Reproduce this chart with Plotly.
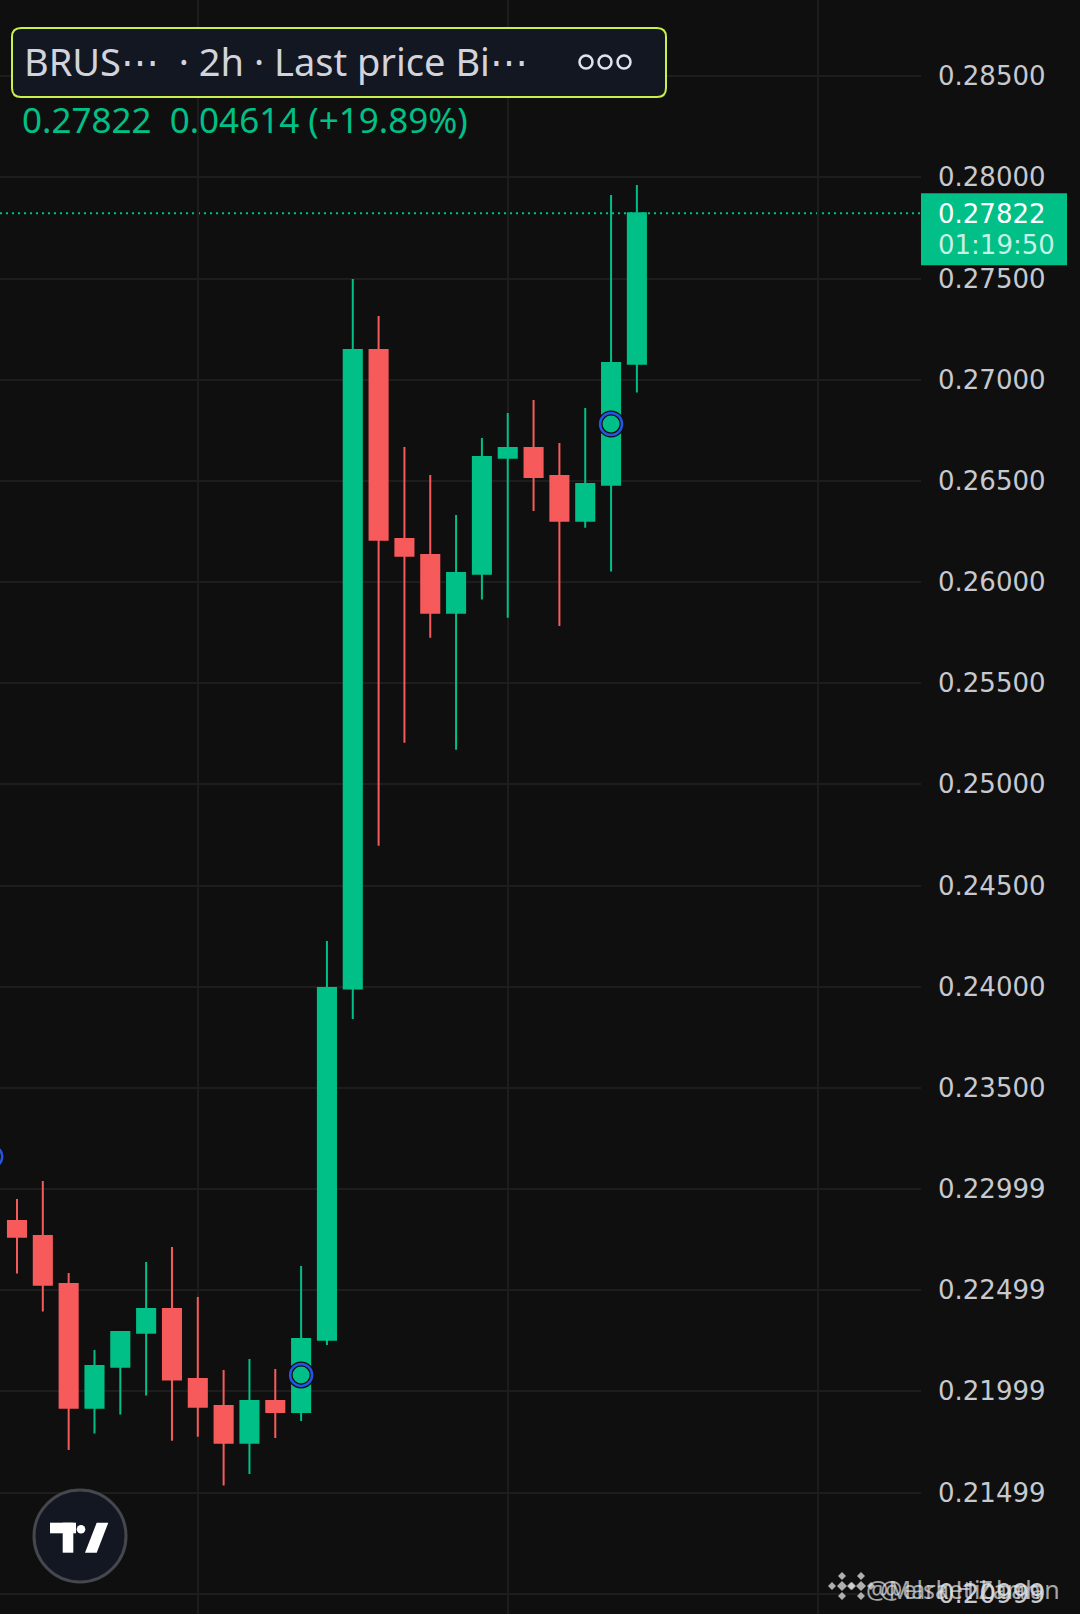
import plotly.graph_objects as go

# candles (2h), index 0 = first candle visible on the left
idx = list(range(25))
opens = [0.22842, 0.22768, 0.22531, 0.21919, 0.22122, 0.22290, 0.22407, 0.22061, 0.21928, 0.21746,
         0.21952, 0.21898, 0.22255, 0.23991, 0.27147, 0.26213, 0.26134, 0.25848, 0.26041, 0.26614,
         0.26662, 0.26524, 0.26303, 0.26481, 0.27079]
highs = [0.22951, 0.23040, 0.22585, 0.22204, 0.22295, 0.22639, 0.22713, 0.22466, 0.22105, 0.22160,
         0.22110, 0.22619, 0.24226, 0.27498, 0.27315, 0.26667, 0.26529, 0.26331, 0.26712, 0.26835,
         0.26900, 0.26687, 0.26860, 0.27913, 0.27962]
lows = [0.22582, 0.22394, 0.21710, 0.21791, 0.21885, 0.21979, 0.21756, 0.21776, 0.21534, 0.21591,
        0.21769, 0.21853, 0.22229, 0.23840, 0.24697, 0.25206, 0.25725, 0.25171, 0.25913, 0.25823,
        0.26351, 0.25783, 0.26268, 0.26052, 0.26936]
closes = [0.22764, 0.22527, 0.21919, 0.22125, 0.22293, 0.22407, 0.22058, 0.21924, 0.21746, 0.21952,
          0.21898, 0.22259, 0.23993, 0.27147, 0.26209, 0.26130, 0.25848, 0.26045, 0.26618, 0.26662,
          0.26519, 0.26303, 0.26484, 0.27082, 0.27822]

# signal circles (indicator)
sig_idx = [-1, 11, 23]
sig_price = [0.23160, 0.22081, 0.26781]

# price scale
tick_vals = [0.285, 0.28, 0.275, 0.27, 0.265, 0.26, 0.255, 0.25, 0.245, 0.24, 0.235,
             0.23, 0.225, 0.22, 0.215, 0.21]
tick_text = ['0.28500', '0.28000', '0.27500', '0.27000', '0.26500', '0.26000', '0.25500',
             '0.25000', '0.24500', '0.24000', '0.23500', '0.22999', '0.22499', '0.21999',
             '0.21499', '0.20999']

change = 0.04614
change_pct = 19.89
countdown = '01:19:50'

W, H = 1080, 1614
PW = 921  # plot width in px
GREEN = '#00c087'
RED = '#f75a5a'
BG = '#0f0f0f'
GRID = '#1d1d1d'


def px(X):
    return X / PW


def py(Y):
    return 1 - Y / H


def rrect(x0, y0, x1, y1, r):
    return ('M {a},{b} L {c},{b} Q {d},{b} {d},{e} L {d},{f} Q {d},{g} {c},{g} '
            'L {a},{g} Q {h},{g} {h},{f} L {h},{e} Q {h},{b} {a},{b} Z').format(
        a=px(x0 + r), b=py(y0), c=px(x1 - r), d=px(x1), e=py(y0 + r),
        f=py(y1 - r), g=py(y1), h=px(x0))


def diamond(cx, cy, s):
    return 'M {},{} L {},{} L {},{} L {},{} Z'.format(
        px(cx), py(cy - s), px(cx + s), py(cy), px(cx), py(cy + s), px(cx - s), py(cy))


fig = go.Figure()

fig.add_trace(go.Candlestick(
    x=idx, open=opens, high=highs, low=lows, close=closes,
    increasing=dict(line=dict(color=GREEN, width=2), fillcolor=GREEN),
    decreasing=dict(line=dict(color=RED, width=2), fillcolor=RED),
    whiskerwidth=0, showlegend=False, hoverinfo='skip'))

fig.add_trace(go.Scatter(
    x=sig_idx, y=sig_price, mode='markers', showlegend=False, hoverinfo='skip',
    marker=dict(symbol='circle-open', size=22, line=dict(color=BG, width=5), color=BG)))
fig.add_trace(go.Scatter(
    x=sig_idx, y=sig_price, mode='markers', showlegend=False, hoverinfo='skip',
    marker=dict(symbol='circle-open', size=22, line=dict(color='#2456e6', width=2.5),
                color='#2456e6')))

last = closes[-1]
shapes = []
# last price dotted line
shapes.append(dict(type='line', xref='paper', x0=0, x1=1, yref='y', y0=last, y1=last,
                   line=dict(color=GREEN, width=2, dash='2px,4px'), layer='between'))
# last price label on the scale
shapes.append(dict(type='rect', xref='paper', x0=1, x1=px(1067), yref='y',
                   ysizemode='pixel', yanchor=last, y0=-52, y1=20,
                   fillcolor=GREEN, line=dict(width=0), layer='above'))
# legend box
shapes.append(dict(type='path', path=rrect(12, 28, 666, 97, 9), xref='paper', yref='paper',
                   fillcolor='#131722', line=dict(color='#c9f04c', width=2), layer='above'))
for cx in [586, 605, 624]:
    shapes.append(dict(type='circle', xref='paper', yref='paper',
                       x0=px(cx - 6.5), x1=px(cx + 6.5), y0=py(62 - 6.5), y1=py(62 + 6.5),
                       line=dict(color='#e0e3eb', width=2.5), layer='above'))
# TradingView logo
shapes.append(dict(type='circle', xref='paper', yref='paper',
                   x0=px(34), x1=px(126), y0=py(1490), y1=py(1582),
                   fillcolor='#131722', line=dict(color='#45474d', width=3), layer='above'))
shapes.append(dict(type='rect', xref='paper', yref='paper', x0=px(50), x1=px(76),
                   y0=py(1522.7), y1=py(1533.3), fillcolor='white', line=dict(width=0), layer='above'))
shapes.append(dict(type='rect', xref='paper', yref='paper', x0=px(62.7), x1=px(73.3),
                   y0=py(1522.7), y1=py(1552.7), fillcolor='white', line=dict(width=0), layer='above'))
shapes.append(dict(type='circle', xref='paper', yref='paper', x0=px(76.7), x1=px(85.3),
                   y0=py(1525), y1=py(1533.6), fillcolor='white', line=dict(width=0), layer='above'))
shapes.append(dict(type='path', xref='paper', yref='paper', layer='above',
                   path='M {},{} L {},{} L {},{} L {},{} Z'.format(
                       px(96.7), py(1522.7), px(108.3), py(1522.7), px(96.7), py(1552.7),
                       px(85), py(1552.7)),
                   fillcolor='white', line=dict(width=0)))
# Binance watermark logos
for lx in [842, 861]:
    for dx, dy, s in [(0, 0, 5), (-10, 0, 4), (10, 0, 4), (0, -10, 4), (0, 10, 4)]:
        shapes.append(dict(type='path', xref='paper', yref='paper', layer='above',
                           path=diamond(lx + dx, 1586 + dy, s),
                           fillcolor='rgba(215,215,215,0.8)', line=dict(width=0)))

ann = []
ann.append(dict(text='BRUS\u22ef  \u00b7 2h \u00b7 Last price Bi\u22ef', xref='paper', yref='paper',
                x=px(22), y=py(61), xanchor='left', yanchor='middle', showarrow=False,
                font=dict(family='Noto Sans', size=38, color='#d1d4dc')))
ann.append(dict(text='{:.5f}\u00a0\u00a0{:.5f} (+{:.2f}%)'.format(last, change, change_pct),
                xref='paper', yref='paper', x=px(20), y=py(119), xanchor='left',
                yanchor='middle', showarrow=False,
                font=dict(family='Noto Sans', size=35, color=GREEN)))
ann.append(dict(text='{:.5f}'.format(last), xref='paper', yref='y', x=px(936), y=last,
                xanchor='left', yanchor='middle', showarrow=False, yshift=-1,
                font=dict(family='DejaVu Sans', size=26, color='white')))
ann.append(dict(text=countdown, xref='paper', yref='y', x=px(936), y=last,
                xanchor='left', yanchor='middle', showarrow=False, yshift=-32,
                font=dict(family='DejaVu Sans', size=26, color='rgba(255,255,255,0.78)')))
for wx, wt in [(864, '@Market Zaman'), (878, '@elsa Hibbah')]:
    ann.append(dict(text=wt, xref='paper', yref='paper', x=px(wx), y=py(1589),
                    xanchor='left', yanchor='middle', showarrow=False,
                    font=dict(family='Noto Sans', size=25, color='rgba(225,225,225,0.72)')))

fig.update_layout(
    width=W, height=H,
    margin=dict(l=0, r=W - PW, t=0, b=0),
    paper_bgcolor=BG, plot_bgcolor=BG,
    showlegend=False,
    shapes=shapes, annotations=ann,
    boxgap=0.3, boxgroupgap=0,
    xaxis=dict(range=[-0.658, 35.0], showticklabels=False, showgrid=True, gridcolor=GRID,
               gridwidth=2, tick0=7, dtick=12, zeroline=False, showline=False,
               rangeslider=dict(visible=False)),
    yaxis=dict(side='right', range=[0.208995, 0.288765], tickvals=tick_vals, ticktext=tick_text,
               showgrid=True, gridcolor=GRID, gridwidth=2, zeroline=False, showline=False,
               ticks='', ticklabelstandoff=16,
               tickfont=dict(family='DejaVu Sans', size=26, color='#c7c9cf')),
)

fig.write_html("out.html", config={'displayModeBar': False},
               post_script="document.body.style.margin='0';")
